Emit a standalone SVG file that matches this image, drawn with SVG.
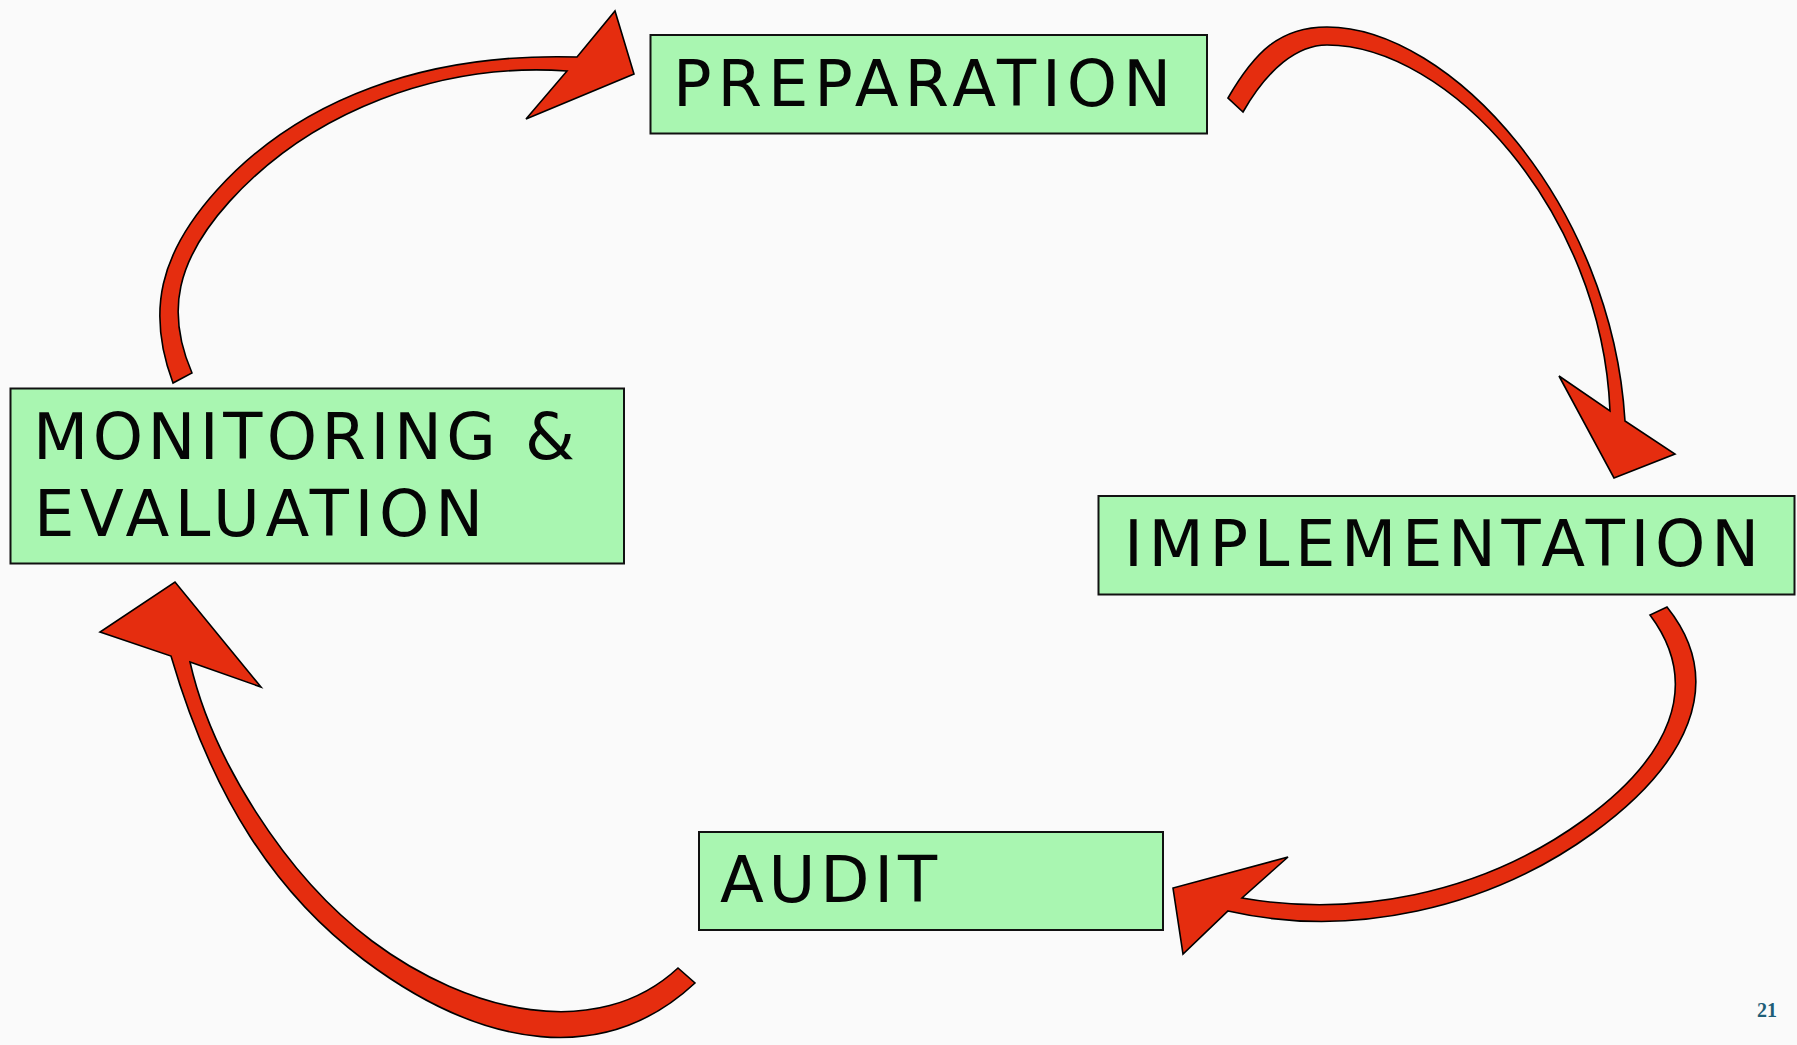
<svg xmlns="http://www.w3.org/2000/svg" width="1797" height="1045" viewBox="0 0 1797 1045">
<style>
.box{fill:#A9F6B1;stroke:#111;stroke-width:2}
.lbl{font-family:"DejaVu Sans","Liberation Sans",sans-serif;font-size:64px;fill:#050505}
.arr{fill:#E52D0F;stroke:#000;stroke-width:1.6;stroke-linejoin:miter}
.pg{font-family:"Liberation Serif",serif;font-size:20px;font-weight:bold;fill:#1E5E78}
</style>
<rect width="1797" height="1045" fill="#FAFAFA"/>
<g id="connectors">
<path class="arr" d="M173,383 C146.3,311.5 159.55,253.5 217,190 C299.4,99 425.4,52.5 577,57 L615,11 L634,74 L526,119 L567,71 C439.1,62 310.9,111.6 229.6,201.4 C176.6,260 165.3,311.5 192,373 Z"/>
<path class="arr" d="M1228,98 C1254.7,51.9 1280,27 1327,27 C1450,27 1611.8,203.9 1625,421 L1675,454 L1614,478 L1559,376 L1610,411 C1601.75,209.7 1447.6,45 1327,45 C1297.4,45 1268,68.5 1243,112 Z"/>
<path class="arr" d="M1667,607 C1728.2,683.3 1686.2,765.5 1593,833 C1487.7,909.3 1351.2,938.9 1228,911 L1183,954 L1173,888 L1288,857 L1242,898 C1351.4,917 1478.3,896.3 1583.6,820 C1668.2,758.7 1703.3,686.1 1650,615 Z"/>
<path class="arr" d="M695,983 C605.3,1066.6 484,1050 364,960 C276,894 212.4,797.9 171,656 L100,632 L175,582 L261,687 L190,662 C211.3,756.5 284,875 372,941 C468,1013 597.3,1043.1 678,968 Z"/>
</g>
<g id="node-preparation">
<rect class="box" x="650.5" y="35" width="556.5" height="98.5"/>
<text class="lbl" x="673" y="105.5" textLength="498">PREPARATION</text>
</g>
<g id="node-monitoring">
<rect class="box" x="10.5" y="388.5" width="613.5" height="175"/>
<text class="lbl" x="33" y="458.5" textLength="542">MONITORING &amp;</text>
<text class="lbl" x="34" y="535.5" textLength="449">EVALUATION</text>
</g>
<g id="node-implementation">
<rect class="box" x="1098.5" y="496" width="696" height="98.5"/>
<text class="lbl" x="1124" y="565.5" textLength="635">IMPLEMENTATION</text>
</g>
<g id="node-audit">
<rect class="box" x="699" y="832" width="464" height="98"/>
<text class="lbl" x="720" y="902" textLength="217">AUDIT</text>
</g>
<text class="pg" x="1757" y="1017">21</text>
</svg>
